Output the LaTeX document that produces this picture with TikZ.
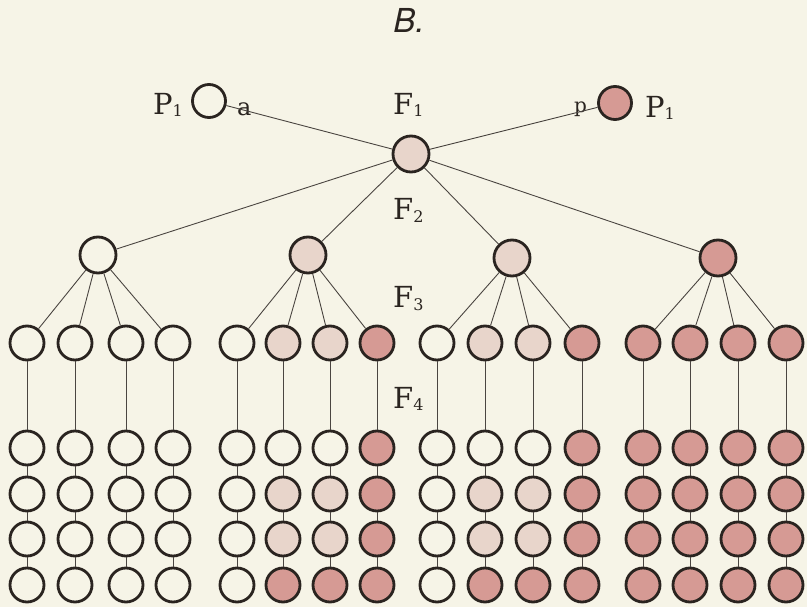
\documentclass[tikz,border=0pt]{standalone}
\usepackage{fontspec}
\newfontfamily\titlefont{TeX Gyre Heros}
\newfontfamily\labelfont{DejaVu Serif}
\usepackage{tikz}

\definecolor{paper}{RGB}{246,244,231}
\definecolor{ink}{RGB}{42,36,32}
\definecolor{lightpink}{RGB}{232,213,203}
\definecolor{darkpink}{RGB}{214,154,148}
\newcommand{\sub}[1]{\raisebox{-2pt}{\fontsize{16}{16}\selectfont #1}}

\tikzset{
  ball/.style={draw=ink,circle,line width=2.8pt,minimum size=34pt,inner sep=0pt},
  wht/.style={ball,fill=paper},
  lgt/.style={ball,fill=lightpink},
  drk/.style={ball,fill=darkpink},
  lbl/.style={anchor=base west,inner sep=0pt,text=ink,font=\labelfont\fontsize{29}{31}\selectfont},
  link/.style={-,draw=ink!85,line width=0.9pt}
}

\begin{document}
\begin{tikzpicture}[x=1pt,y=-1pt]
        \fill[paper] (0,0) rectangle (807,607);
        \useasboundingbox (0,0) rectangle (807,607);
        \node[anchor=base,inner sep=0pt,text=ink,font=\titlefont\itshape\fontsize{33}{35}\selectfont] (T) at (409,33) {B.};
        % top of the tree
        \node[lgt,minimum size=36pt] (F) at (411,154) {};
        \node[wht,minimum size=33pt] (PL) at (209,101) {};
        \node[drk,minimum size=33pt] (PR) at (615,103) {};
        \node[lbl] (LPL) at (153,115) {P\sub{1}};
        \node[lbl] (LPR) at (645,118) {P\sub{1}};
        \node[lbl,font=\labelfont\fontsize{24}{26}\selectfont] (La) at (237,116) {a};
        \node[lbl,font=\labelfont\fontsize{20}{22}\selectfont] (Lp) at (574,113) {p};
        \node[lbl] (LF1) at (393,115) {F\sub{1}};
        \node[lbl] (LF2) at (393,220) {F\sub{2}};
        \node[lbl] (LF3) at (393,308) {F\sub{3}};
        \node[lbl] (LF4) at (393,408) {F\sub{4}};
        % second row
        \node[wht,minimum size=36pt] (M1) at (98,255) {};
        \node[lgt,minimum size=36pt] (M2) at (308,255) {};
        \node[lgt,minimum size=36pt] (M3) at (512,258) {};
        \node[drk,minimum size=36pt] (M4) at (718,258) {};
        \path[link] (PL) edge (F)  (F) edge (PR)
        (F) edge (M1)  (F) edge (M2)
        (F) edge (M3)  (F) edge (M4);
        % third row and the columns below it
        \foreach \x/\p/\a/\b/\c/\d/\e [count=\i] in {
          27/M1/wht/wht/wht/wht/wht, 75/M1/wht/wht/wht/wht/wht,
          126/M1/wht/wht/wht/wht/wht, 173/M1/wht/wht/wht/wht/wht,
          237/M2/wht/wht/wht/wht/wht, 283/M2/lgt/wht/lgt/lgt/drk,
          330/M2/lgt/wht/lgt/lgt/drk, 377/M2/drk/drk/drk/drk/drk,
          437/M3/wht/wht/wht/wht/wht, 485/M3/lgt/wht/lgt/lgt/drk,
          533/M3/lgt/wht/lgt/lgt/drk, 582/M3/drk/drk/drk/drk/drk,
          643/M4/drk/drk/drk/drk/drk, 690/M4/drk/drk/drk/drk/drk,
          738/M4/drk/drk/drk/drk/drk, 786/M4/drk/drk/drk/drk/drk}
        {
          \node[\a] (K\i) at (\x,343) {};
          \node[\b] (R\i-1) at (\x,448) {};
          \node[\c] (R\i-2) at (\x,494) {};
          \node[\d] (R\i-3) at (\x,539) {};
          \node[\e] (R\i-4) at (\x,585) {};
          \path[link] (\p) edge (K\i)  (K\i) edge (R\i-1)
          (R\i-1) edge (R\i-2)  (R\i-2) edge (R\i-3)
          (R\i-3) edge (R\i-4);
        }
      \end{tikzpicture}
\end{document}
